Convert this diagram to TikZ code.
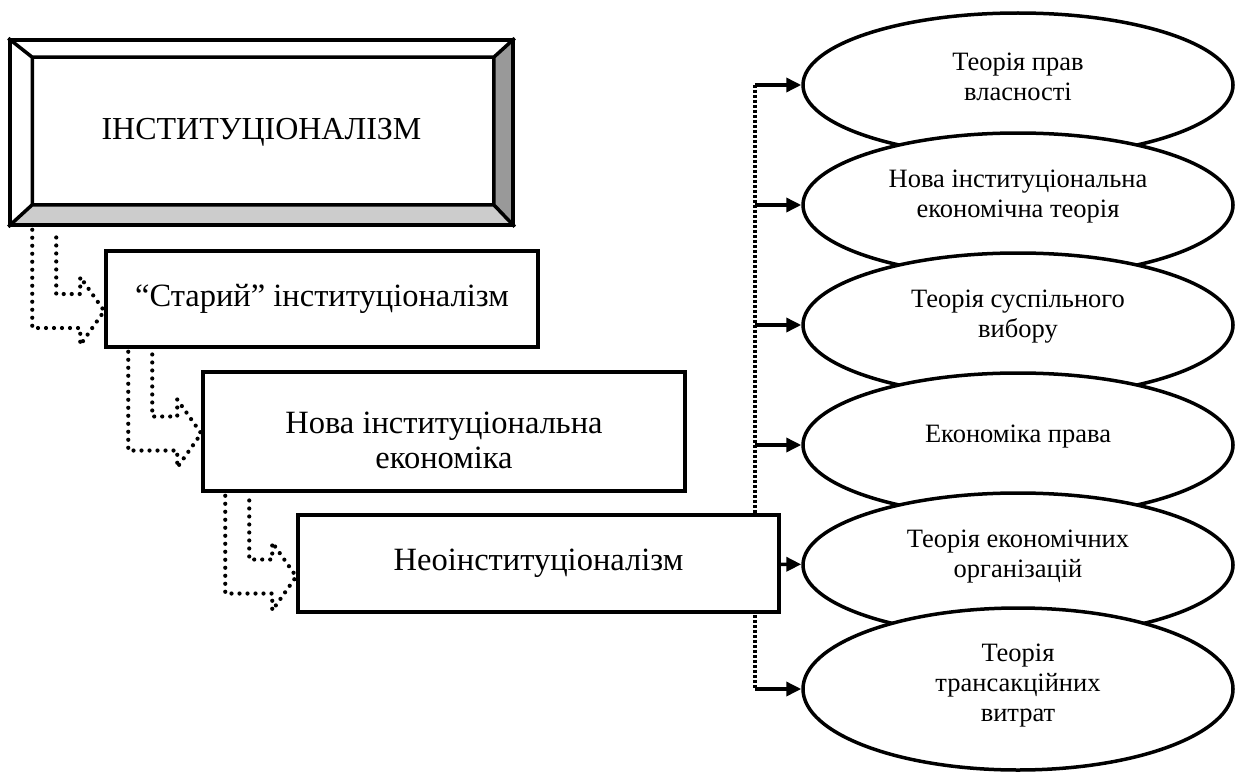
\documentclass[tikz,border=0pt]{standalone}
\usepackage{fontspec}
\setmainfont{Liberation Serif}
\usepackage{tikz}
\usetikzlibrary{arrows.meta}
\usetikzlibrary{positioning}
\usetikzlibrary{calc}
\usetikzlibrary{shapes.geometric}
\usetikzlibrary{backgrounds}

% hollow L-shaped arrow with a dotted outline
\newcommand{\dotarrow}[3]{%
  \coordinate (s) at ($(#1.south west)+(24,3)$);
  \coordinate (t) at ($(#2.west)+(0,#3)$);
  \coordinate (t1) at ($(t)+(0,17)$);
  \coordinate (t2) at ($(t)+(0,-17)$);
  \draw[dots] (s) -- (s |- t1) -- ($(t1)+(-24,0)$) -- ($(t)+(-24,34)$) -- (t)
    -- ($(t)+(-24,-34)$) -- ($(t2)+(-24,0)$) -- ($(s |- t2)+(24,0)$) -- ($(s)+(24,0)$);
}

\begin{document}
\begin{tikzpicture}[x=1pt,y=-1pt,node distance=120pt,
    bevelbox/.style={rectangle,draw,line width=3.5pt,minimum width=503pt,minimum height=185pt,
                     font=\fontsize{32}{38}\selectfont},
    box/.style={rectangle,draw,fill=white,line width=3.5pt,align=center,
                font=\fontsize{32.5}{35}\selectfont},
    boxtext/.style={align=center,font=\fontsize{32.5}{35}\selectfont},
    theory/.style={ellipse,draw,fill=white,line width=3.5pt,minimum width=430pt,minimum height=144pt,
                   inner sep=0pt},
    theorytext/.style={align=center,font=\fontsize{26.5}{30}\selectfont,yshift=8pt},
    dots/.style={line width=4.2pt,line cap=round,dash pattern=on 0pt off 8pt},
    spine/.style={line width=3.5pt,dash pattern=on 3pt off 2pt},
    link/.style={line width=3.5pt,-{Triangle[length=15pt,width=14pt]}}]

  \useasboundingbox (0,0) rectangle (1241,773);

  \node[bevelbox] (inst) at (261.5,132.5) {ІНСТИТУЦІОНАЛІЗМ};
  \coordinate (b1) at ($(inst.north west)+(24,19)$);
  \coordinate (b2) at ($(inst.north east)+(-21,19)$);
  \coordinate (b3) at ($(inst.south east)+(-21,-22)$);
  \coordinate (b4) at ($(inst.south west)+(24,-22)$);
  \draw[line width=3.5pt,line join=miter] (b1) rectangle (b3)
    (inst.north west) -- (b1) (inst.north east) -- (b2)
    (inst.south east) -- (b3) (inst.south west) -- (b4);

  \node[box,minimum width=432pt,minimum height=96pt] (old) at (322,299) {“Старий” інституціоналізм};
  \node[box,minimum width=482pt,minimum height=119pt,
        label={[boxtext,yshift=-9pt]center:Нова інституціональна\\економіка}] (nie) at (444,431.5) {};
  \node[box,minimum width=481pt,minimum height=97pt] (neo) at (538.5,563.5) {Неоінституціоналізм};

  \node[theory,label={[theorytext]center:Теорія прав\\власності}] (e1) at (1018,85) {};
  \node[theory,label={[theorytext]center:Нова інституціональна\\економічна теорія}] (e2) [below of=e1] {};
  \node[theory,label={[theorytext]center:Теорія суспільного\\вибору}] (e3) [below of=e2] {};
  \node[theory,label={[theorytext]center:Економіка права}] (e4) [below of=e3] {};
  \node[theory,label={[theorytext]center:Теорія економічних\\організацій}] (e5) [below of=e4] {};
  \node[theory,minimum height=162pt,label={[theorytext,yshift=-5pt]center:Теорія\\трансакційних\\витрат}]
    (e6) [below of=e5,yshift=-4pt] {};

  \coordinate (sp) at (755,0);

  \begin{scope}[on background layer]
    \fill[black!40] (inst.north east) -- (inst.south east) -- (b3) -- (b2) -- cycle;
    \fill[black!20] (inst.south west) -- (inst.south east) -- (b3) -- (b4) -- cycle;
    \draw[spine] (sp |- e1) -- (sp |- e6);
  \end{scope}

  \foreach \i in {1,2,3,4,6}
    \draw[link] (sp |- e\i) -- (e\i);
  \draw[link] (neo) -- (e5);

  \dotarrow{inst}{old}{12}
  \dotarrow{old}{nie}{2}
  \dotarrow{nie}{neo}{13}
\end{tikzpicture}
\end{document}
